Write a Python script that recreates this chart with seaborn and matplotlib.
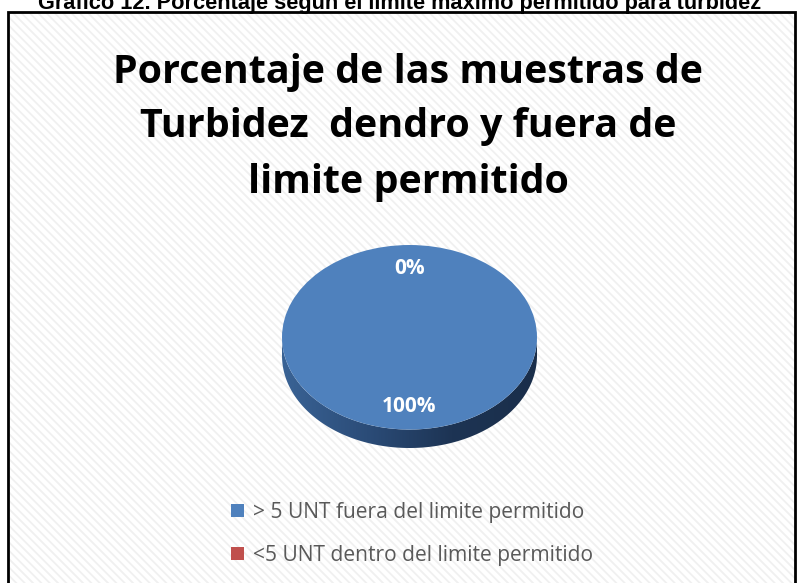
import numpy as np
import matplotlib
matplotlib.use("Agg")
import matplotlib.pyplot as plt
from matplotlib.patches import Rectangle, Polygon
from matplotlib.colors import LinearSegmentedColormap
import seaborn as sns

# data
categories = ["> 5 UNT fuera del limite permitido", "<5 UNT dentro del limite permitido"]
percentages = [100, 0]
slice_colors = ["#4F81BD", "#C0504D"]

caption = "Gráfico 12. Porcentaje según el límite máximo permitido para turbidez"
title_lines = ["Porcentaje de las muestras de", "Turbidez  dendro y fuera de", "limite permitido"]

sns.set_style("white")
plt.rcParams["font.family"] = ["Open Sans", "DejaVu Sans"]
plt.rcParams["hatch.linewidth"] = 1.3

W, H = 797, 583
fig = plt.figure(figsize=(W / 100, H / 100), dpi=100)
renderer = fig.canvas.get_renderer()


def fx(px):
    return px / W


def fy(py):
    return 1 - py / H


def fit_width(txt, target_px):
    """Scale a text's font size so its rendered width matches target_px."""
    w = txt.get_window_extent(renderer=renderer).width
    txt.set_fontsize(txt.get_fontsize() * target_px / w)
    return txt.get_fontsize()


# hatched chart area + black border
bg = Rectangle((fx(8), fy(600)), fx(789), 588 / H, transform=fig.transFigure,
               facecolor="white", edgecolor="#f0f0f0", hatch="\\\\\\\\", linewidth=0, zorder=0)
fig.add_artist(bg)
border = Rectangle((fx(8), fy(600)), fx(787), 588 / H, transform=fig.transFigure,
                   fill=False, edgecolor="black", linewidth=2, zorder=1)
fig.add_artist(border)

# caption (cut at the top edge as in the source)
cap = fig.text(fx(400), fy(9), caption, ha="center", va="baseline", fontsize=14,
               fontweight="bold", family=["Liberation Sans Narrow", "Liberation Sans", "DejaVu Sans"],
               color="black")
fit_width(cap, 724)

# chart title, one text per line
first = fig.text(fx(408), fy(72), title_lines[0], ha="center", va="center", fontsize=26,
                 fontweight="bold", color="black")
tsize = fit_width(first, 590)
for line, ypx in zip(title_lines[1:], [127, 183]):
    fig.text(fx(408), fy(ypx), line, ha="center", va="center", fontsize=tsize,
             fontweight="bold", color="black")

# pie with a 3D-like tilted look
depth = 0.2
left, right, top, bottom = 282, 537, 245, 448
ax = fig.add_axes([fx(left), fy(bottom), fx(right - left), (bottom - top) / H])
ax.patch.set_alpha(0)

wedges, texts, autotexts = ax.pie(
    percentages, colors=slice_colors, startangle=90, counterclock=False,
    autopct="%1.0f%%", pctdistance=0.75,
    textprops=dict(color="white", fontsize=15, fontweight="bold"),
    wedgeprops=dict(linewidth=0),
)
for w in wedges:
    w.set_zorder(2)
for t in autotexts:
    t.set_zorder(4)

# side of the disc
theta = np.linspace(np.pi, 2 * np.pi, 200)
side = np.vstack([
    np.column_stack([np.cos(theta), np.sin(theta) - depth]),
    np.column_stack([np.cos(theta[::-1]), np.sin(theta[::-1])]),
])
side_poly = Polygon(side, closed=True, facecolor="none", edgecolor="none")
ax.add_patch(side_poly)
grad_cmap = LinearSegmentedColormap.from_list("side", ["#3A6395", "#2B4C78", "#1D3454", "#1A2E4A"])
grad = np.linspace(0, 1, 256).reshape(1, -1)
img = ax.imshow(grad, cmap=grad_cmap, extent=(-1, 1, -1 - depth, 0), aspect="auto", zorder=1)
img.set_clip_path(side_poly)

ax.set_aspect("auto")
ax.set_xlim(-1, 1)
ax.set_ylim(-1 - depth, 1)
ax.axis("off")

# legend, font sized so the first entry spans the same width as the source
probe = fig.text(0, 0, categories[0], fontsize=14)
lsize = fit_width(probe, 333)
probe.remove()
leg = fig.legend(wedges, categories, loc="center", bbox_to_anchor=(fx(412), fy(534)),
                 frameon=False, fontsize=lsize, handlelength=0.62, handleheight=0.62,
                 handletextpad=0.4, labelspacing=1.05, borderpad=0)
for t in leg.get_texts():
    t.set_color("#595959")

fig.savefig("out.png", dpi=100)
